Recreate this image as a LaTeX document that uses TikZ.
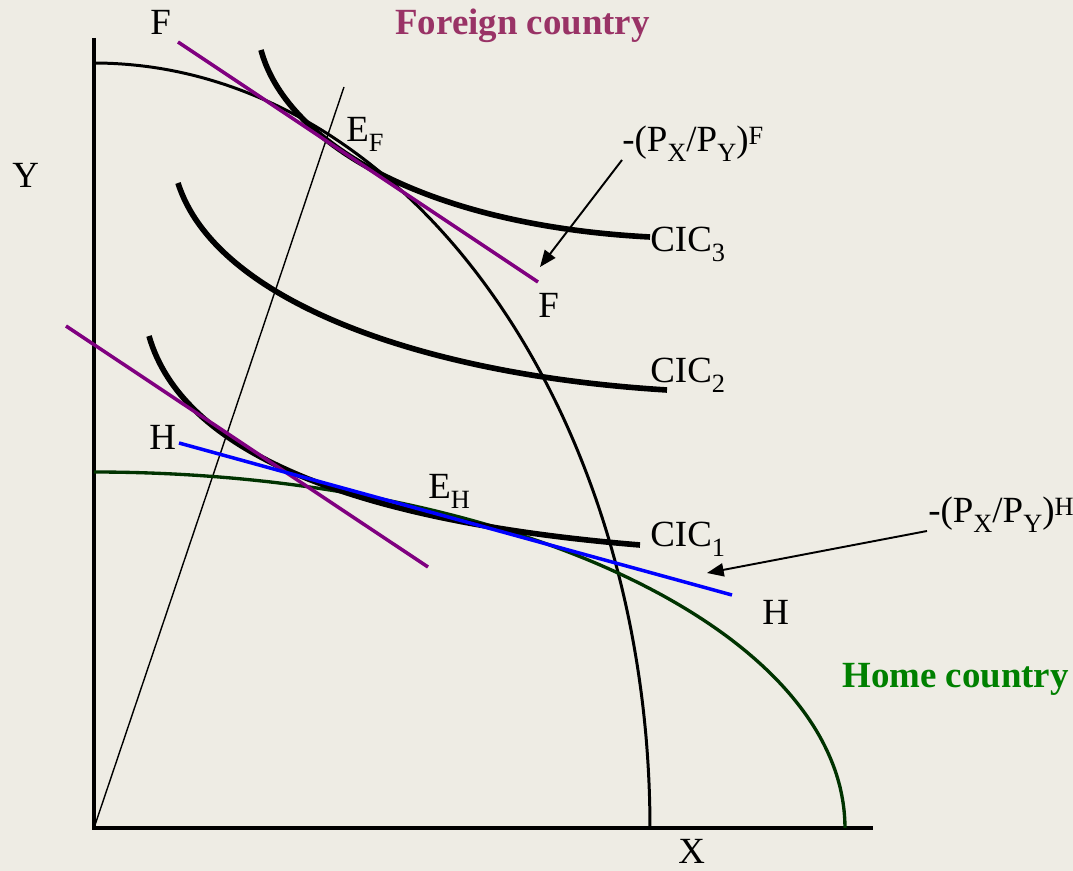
\documentclass[tikz,border=0pt]{standalone}
\usepackage{fontspec}
\setmainfont{Liberation Serif}
\usetikzlibrary{arrows.meta,positioning}
\definecolor{slidebg}{RGB}{238,236,228}
\definecolor{foreignred}{RGB}{153,51,102}
\definecolor{homegreen}{RGB}{0,128,0}
\definecolor{ppfgreen}{RGB}{0,51,0}
\definecolor{pricepurple}{RGB}{128,0,128}
\definecolor{priceblue}{RGB}{0,0,255}
\newcommand{\subtxt}[1]{\raisebox{-5.5pt}{\fontsize{15}{15}\selectfont #1}}
\newcommand{\suptxt}[1]{\raisebox{4.5pt}{\fontsize{15}{15}\selectfont #1}}

\begin{document}
\begin{tikzpicture}[
    x=0.02cm, y=-0.02cm,
    axis/.style={line width=1.9pt},
    ppf/.style={line width=1.7pt},
    cic/.style={line width=3.2pt},
    price/.style={line width=2pt},
    pointer/.style={-{Triangle[length=9.5pt,width=7.5pt]}, line width=1.1pt},
    lbl/.style={font=\fontsize{21}{24}\selectfont, inner sep=0pt, anchor=base west},
    country/.style={font=\fontsize{21}{24}\selectfont\bfseries, inner sep=0pt, anchor=base west}
]
\useasboundingbox (0,0) rectangle (1073,871);
\fill[slidebg] (0,0) rectangle (1073,871);

% Axes
\coordinate (O) at (94,828);
\coordinate (ytop) at (94,38);
\coordinate (xend) at (873,828);
\draw[axis] (ytop) -- (O) -- (xend);

% Ray through both equilibria
\coordinate (raytop) at (344,87);
\draw[line width=0.8pt] (O) -- (raytop);

% Production possibility frontiers
\draw[ppf] plot[domain=-90:0, samples=80, smooth] ({94+556*cos(\x)}, {828+765*sin(\x)});
\draw[ppf, ppfgreen, line width=1.9pt] plot[domain=-90:0, samples=80, smooth] ({94+751*cos(\x)}, {828+356*sin(\x)});

% Indifference curves
\draw[cic] (261,50) .. controls (285,140) and (420,225) .. (650,237);
\draw[cic] (178,183) .. controls (215,300) and (420,375) .. (667,390);
\draw[cic] (149,336) .. controls (183,455) and (360,522) .. (640,545);

% Price lines
\coordinate (F1) at (178,42);
\coordinate (F2) at (538,282);
\coordinate (G1) at (66,326);
\coordinate (G2) at (428,567);
\coordinate (H1) at (179,443);
\coordinate (H2) at (732,595);
\draw[price, pricepurple] (F1) -- (F2);
\draw[price, pricepurple] (G1) -- (G2);
\draw[price, priceblue] (H1) -- (H2);

% Labels
\node[country, text=foreignred] (foreign) at (395,35) {Foreign country};
\node[country, text=homegreen] (home) at (842,688) {Home country};
\node[lbl] (ylab) at (12,188) {Y};
\node[lbl] (xlab) at (678,864) {X};
\node[lbl] (ftop) at (150,35) {F};
\node[lbl] (fbot) at (538,318) {F};
\node[lbl] (hleft) at (149,450) {H};
\node[lbl] (hright) at (762,625) {H};
\node[lbl] (ef) at (346,142) {E\subtxt{F}};
\node[lbl] (eh) at (428,499) {E\subtxt{H}};
\node[lbl] (cic3) at (650,252) {CIC\subtxt{3}};
\node[lbl] (cic2) at (650,383) {CIC\subtxt{2}};
\node[lbl] (cic1) at (650,547) {CIC\subtxt{1}};
\node[lbl] (pf) at (622,152) {-(P\subtxt{X}/P\subtxt{Y})\suptxt{F}};
\node[lbl] (ph) at (928,523) {-(P\subtxt{X}/P\subtxt{Y})\suptxt{H}};

% Pointers to the price lines
\coordinate (pfstart) at (622,160);
\coordinate (pftip) at (540,267);
\coordinate (phstart) at (927,531);
\coordinate (phtip) at (707,573);
\draw[pointer] (pfstart) -- (pftip);
\draw[pointer] (phstart) -- (phtip);

\end{tikzpicture}
\end{document}
